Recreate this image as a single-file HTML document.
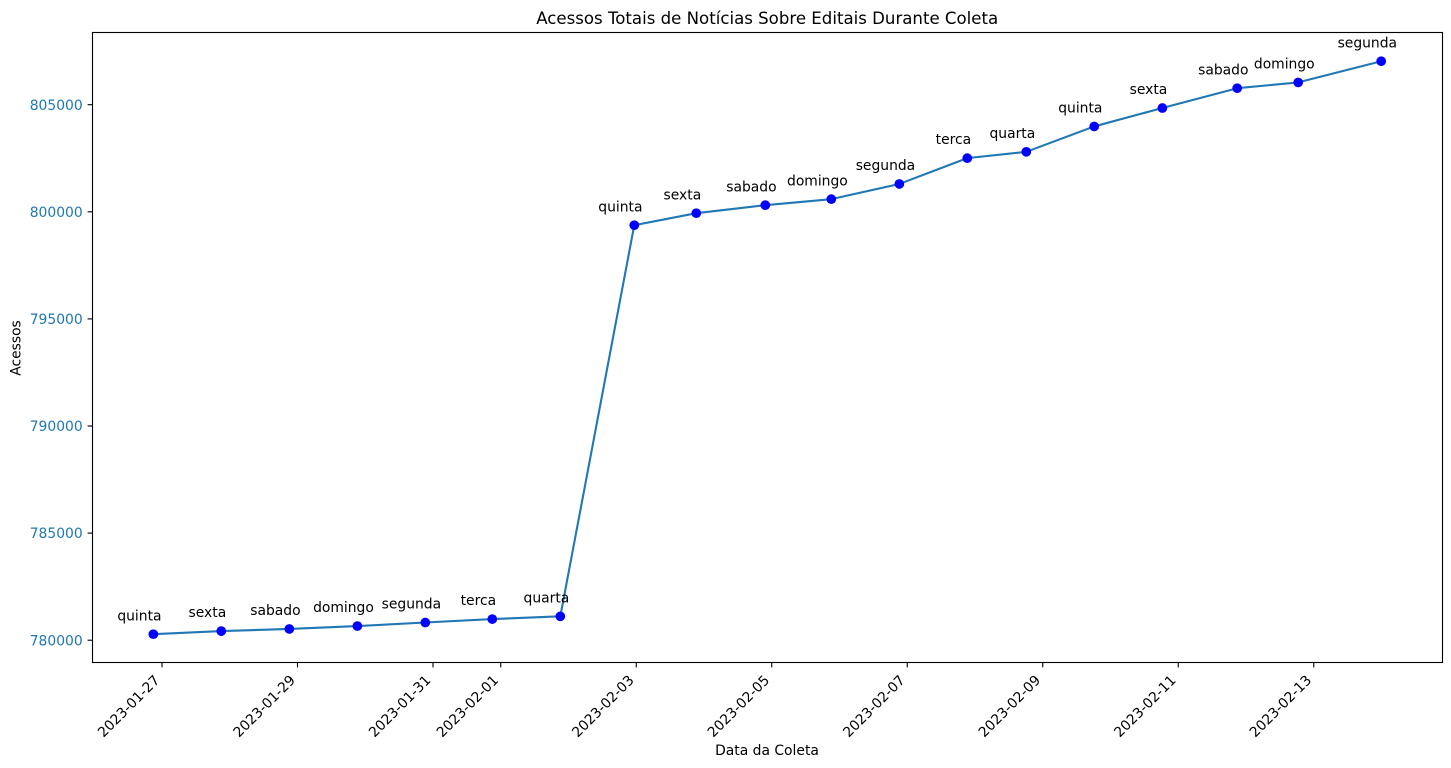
<!DOCTYPE html>
<html lang="pt">
<head>
<meta charset="utf-8">
<title>Acessos Totais de Notícias Sobre Editais Durante Coleta</title>
<style>
html,body{margin:0;padding:0;background:#fff;width:1451px;height:768px;overflow:hidden}
svg{display:block}
text{font-family:"DejaVu Sans","Liberation Sans",sans-serif;font-size:13.89px;fill:#000}
</style>
</head>
<body>
<svg id="chart" width="1451" height="768" viewBox="0 0 1451 768" xmlns="http://www.w3.org/2000/svg">
  <rect x="92.5" y="32.5" width="1350" height="630" fill="#fff"/>
  <g id="series"></g>
  <g id="labels"></g>
  <g id="xaxis"></g>
  <g id="yaxis"></g>
  <rect x="92.5" y="32.5" width="1350" height="630" fill="none" stroke="#000" stroke-width="1.11"/>
  <text x="767.2" y="24" text-anchor="middle" style="font-size:16.6px">Acessos Totais de Notícias Sobre Editais Durante Coleta</text>
  <text x="767" y="755" text-anchor="middle">Data da Coleta</text>
  <text transform="translate(20.5,348) rotate(-90)" text-anchor="middle">Acessos</text>
</svg>
<script>
const dates = ["2023-01-26T20:56","2023-01-27T21:00","2023-01-28T21:06","2023-01-29T21:12","2023-01-30T21:16","2023-01-31T21:00","2023-02-01T21:06","2023-02-02T23:18","2023-02-03T21:16","2023-02-04T21:43","2023-02-05T21:06","2023-02-06T21:12","2023-02-07T21:16","2023-02-08T18:10","2023-02-09T18:14","2023-02-10T18:22","2023-02-11T20:53","2023-02-12T18:29","2023-02-13T23:54"];
const accesses = [780280,780425,780525,780660,780826,780985,781115,799375,799935,800310,800590,801300,802505,802800,803985,804845,805770,806040,807030];
const weekdays = ["quinta","sexta","sabado","domingo","segunda","terca","quarta","quinta","sexta","sabado","domingo","segunda","terca","quarta","quinta","sexta","sabado","domingo","segunda"];
const xTickLabels = ["2023-01-27","2023-01-29","2023-01-31","2023-02-01","2023-02-03","2023-02-05","2023-02-07","2023-02-09","2023-02-11","2023-02-13"];
const yTickValues = [780000,785000,790000,795000,800000,805000];

const SVG_NS = "http://www.w3.org/2000/svg";
const toDays = function (s) {
  return Date.parse((s.length === 10 ? s + "T00:00" : s) + ":00Z") / 86400000;
};
const originDay = toDays("2023-01-27");
const xScale = function (s) { return 162 + (toDays(s) - originDay) * 67.75; };
const yScale = function (v) { return 640.2 - (v - 780000) * 535.5 / 25000; };
const make = function (tag, attrs, parent) {
  const el = document.createElementNS(SVG_NS, tag);
  Object.keys(attrs).forEach(function (k) { el.setAttribute(k, attrs[k]); });
  parent.appendChild(el);
  return el;
};

const seriesLayer = document.getElementById("series");
const labelsLayer = document.getElementById("labels");
const xAxis = document.getElementById("xaxis");
const yAxis = document.getElementById("yaxis");

const linePoints = dates.map(function (d, i) {
  return xScale(d).toFixed(2) + "," + yScale(accesses[i]).toFixed(2);
}).join(" ");
const seriesLine = make("polyline", {points: linePoints, fill: "none", stroke: "#1f77b4", "stroke-width": 2.08, "stroke-linejoin": "round"}, seriesLayer);



dates.forEach(function (d, i) {
  const px = xScale(d);
  const py = yScale(accesses[i]);
  const dot = make("circle", {cx: px, cy: py, r: 4.86, fill: "#0000ff"}, seriesLayer);
  
  
  const label = make("text", {x: px - 13.9, y: py - 13.9, "text-anchor": "middle"}, labelsLayer);
  
  
  label.textContent = weekdays[i];
});

xTickLabels.forEach(function (t) {
  const px = xScale(t);
  const tick = make("line", {x1: px, x2: px, y1: 662.5, y2: 667.4, stroke: "#000", "stroke-width": 1.11}, xAxis);
  
  
  const label = make("text", {transform: "translate(" + (px - 1.5) + ",681) rotate(-45)", "text-anchor": "end"}, xAxis);
  
  
  label.textContent = t;
});

yTickValues.forEach(function (v) {
  const py = yScale(v);
  const tick = make("line", {x1: 87.6, x2: 92.5, y1: py, y2: py, stroke: "#000", "stroke-width": 1.11}, yAxis);
  
  
  const label = make("text", {x: 82.7, y: py + 5.05, "text-anchor": "end", style: "fill:#1f77b4"}, yAxis);
  
  
  label.textContent = String(v);
});
</script>
</body>
</html>
